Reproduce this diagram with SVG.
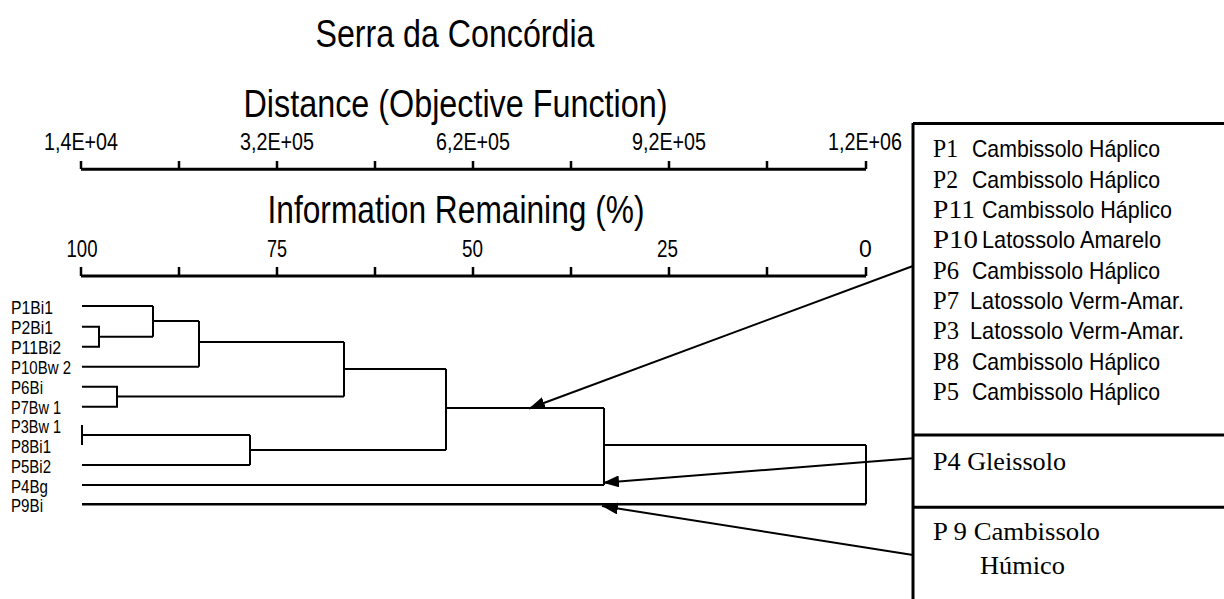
<svg xmlns="http://www.w3.org/2000/svg" width="1224" height="599" viewBox="0 0 1224 599">
<style>
.n{font-family:"Liberation Sans Narrow","Liberation Sans",Arial,sans-serif;fill:#000}
.t{font-family:"Liberation Serif","Times New Roman",serif;fill:#000}
.big{font-size:39px}
.ax{font-size:23px}
.lf{font-size:18px}
.bx{font-size:24px}
.bxt{font-size:26px}
.bx2{font-size:26px}
.ln{stroke:#000;fill:none;stroke-width:2}
.axl{stroke:#000;fill:none;stroke-width:3}
.tk{stroke:#000;fill:none;stroke-width:2.5}
.brd{stroke:#000;fill:none;stroke-width:3}
.arr{stroke:#000;fill:none;stroke-width:2;marker-end:url(#ah)}
</style>
<defs>
<marker id="ah" viewBox="0 0 16 12" refX="16" refY="6" markerWidth="16" markerHeight="12" markerUnits="userSpaceOnUse" orient="auto">
<path d="M0 0L16 6L0 12z" fill="#000"/>
</marker>
</defs>
<rect width="1224" height="599" fill="#fff"/>
<g id="title">
<text class="n big" x="455" y="47" text-anchor="middle" textLength="279" lengthAdjust="spacingAndGlyphs">Serra da Concórdia</text>
</g>
<g id="axis-distance">
<text class="n big" x="455.5" y="117" text-anchor="middle" textLength="424" lengthAdjust="spacingAndGlyphs">Distance (Objective Function)</text>
<path class="axl" d="M81 169.3H866"/>
<path class="tk" d="M81 161V169M179 161V169M277 161V169M375 161V169M473 161V169M571 161V169M669 161V169M767 161V169M866 161V169"/>
<g class="n ax" text-anchor="middle">
<text x="81" y="150" textLength="74" lengthAdjust="spacingAndGlyphs">1,4E+04</text>
<text x="277" y="150" textLength="74" lengthAdjust="spacingAndGlyphs">3,2E+05</text>
<text x="473" y="150" textLength="74" lengthAdjust="spacingAndGlyphs">6,2E+05</text>
<text x="669" y="150" textLength="74" lengthAdjust="spacingAndGlyphs">9,2E+05</text>
<text x="865" y="150" textLength="74" lengthAdjust="spacingAndGlyphs">1,2E+06</text>
</g>
</g>
<g id="axis-information">
<text class="n big" x="456" y="223" text-anchor="middle" textLength="377" lengthAdjust="spacingAndGlyphs">Information Remaining (%)</text>
<path class="axl" d="M81 276H866"/>
<path class="tk" d="M81 267V276M179 267V276M277 267V276M375 267V276M473 267V276M571 267V276M669 267V276M767 267V276M866 267V276"/>
<g class="n ax" text-anchor="middle">
<text x="82" y="257" textLength="31" lengthAdjust="spacingAndGlyphs">100</text>
<text x="277" y="257" textLength="20" lengthAdjust="spacingAndGlyphs">75</text>
<text x="472.5" y="257" textLength="21" lengthAdjust="spacingAndGlyphs">50</text>
<text x="667.5" y="257" textLength="21" lengthAdjust="spacingAndGlyphs">25</text>
<text x="865.5" y="257">0</text>
</g>
</g>
<g id="leaf-labels" class="n lf">
<text x="11" y="314" textLength="42" lengthAdjust="spacingAndGlyphs">P1Bi1</text>
<text x="11" y="334" textLength="42" lengthAdjust="spacingAndGlyphs">P2Bi1</text>
<text x="11" y="354" textLength="50" lengthAdjust="spacingAndGlyphs">P11Bi2</text>
<text x="11" y="374" textLength="60" lengthAdjust="spacingAndGlyphs">P10Bw 2</text>
<text x="11" y="394" textLength="32" lengthAdjust="spacingAndGlyphs">P6Bi</text>
<text x="11" y="413.5" textLength="50" lengthAdjust="spacingAndGlyphs">P7Bw 1</text>
<text x="11" y="433" textLength="50" lengthAdjust="spacingAndGlyphs">P3Bw 1</text>
<text x="11" y="452.5" textLength="40" lengthAdjust="spacingAndGlyphs">P8Bi1</text>
<text x="11" y="472.5" textLength="40" lengthAdjust="spacingAndGlyphs">P5Bi2</text>
<text x="11" y="492.5" textLength="37" lengthAdjust="spacingAndGlyphs">P4Bg</text>
<text x="11" y="512" textLength="32" lengthAdjust="spacingAndGlyphs">P9Bi</text>
</g>
<g id="dendrogram">
<path class="ln" d="M82 306H153M82 326.7H99V346.7H82M99 336.7H153M153 306V336.7M153 321H199M82 366.7H199M199 321V366.7M199 342H344M82 386.7H117V406.7H82M117 396.5H344M344 342V396.5M344 369H446M82 425V445M82 435H250M82 465H250M250 435V465M250 450H446M446 369V450M446 408H604M82 485H604M604 408V485M604 445H866M866 445V504.3"/>
<path class="ln" style="stroke-width:2.5" d="M82 504.3H866"/>
</g>
<g id="legend-box-1">
<path class="brd" d="M913 123.5H1224M913 123V599M913 435H1224M913 507.3H1224"/>
<g class="t bxt">
<text x="933" y="157.3" textLength="25" lengthAdjust="spacingAndGlyphs">P1</text>
<text x="933" y="187.6" textLength="25" lengthAdjust="spacingAndGlyphs">P2</text>
<text x="933" y="218" textLength="42" lengthAdjust="spacingAndGlyphs">P11</text>
<text x="933" y="248.3" textLength="45" lengthAdjust="spacingAndGlyphs">P10</text>
<text x="933" y="278.7" textLength="26" lengthAdjust="spacingAndGlyphs">P6</text>
<text x="933" y="309" textLength="26" lengthAdjust="spacingAndGlyphs">P7</text>
<text x="933" y="339.4" textLength="26" lengthAdjust="spacingAndGlyphs">P3</text>
<text x="933" y="369.7" textLength="26" lengthAdjust="spacingAndGlyphs">P8</text>
<text x="933" y="400" textLength="26" lengthAdjust="spacingAndGlyphs">P5</text>
</g>
<g class="n bx">
<text x="972" y="157.3" textLength="188" lengthAdjust="spacingAndGlyphs">Cambissolo Háplico</text>
<text x="972" y="187.6" textLength="188" lengthAdjust="spacingAndGlyphs">Cambissolo Háplico</text>
<text x="982" y="218" textLength="190" lengthAdjust="spacingAndGlyphs">Cambissolo Háplico</text>
<text x="982" y="248.3" textLength="179" lengthAdjust="spacingAndGlyphs">Latossolo Amarelo</text>
<text x="972" y="278.7" textLength="188" lengthAdjust="spacingAndGlyphs">Cambissolo Háplico</text>
<text x="970" y="309" textLength="214" lengthAdjust="spacingAndGlyphs">Latossolo Verm-Amar.</text>
<text x="970" y="339.4" textLength="214" lengthAdjust="spacingAndGlyphs">Latossolo Verm-Amar.</text>
<text x="972" y="369.7" textLength="188" lengthAdjust="spacingAndGlyphs">Cambissolo Háplico</text>
<text x="972" y="400" textLength="188" lengthAdjust="spacingAndGlyphs">Cambissolo Háplico</text>
</g>
</g>
<g id="legend-box-2">
<text class="t bx2" x="933" y="470" textLength="133" lengthAdjust="spacingAndGlyphs">P4 Gleissolo</text>
</g>
<g id="legend-box-3">
<text class="t bx2" x="933" y="540" textLength="167" lengthAdjust="spacingAndGlyphs">P 9 Cambissolo</text>
<text class="t bx2" x="980" y="573.5" textLength="85" lengthAdjust="spacingAndGlyphs">Húmico</text>
</g>
<g id="connectors">
<path class="arr" d="M913 266L529 408.5"/>
<path class="arr" d="M913 458.3L603 482.7"/>
<path class="arr" d="M913 555L602 506"/>
</g>
</svg>
